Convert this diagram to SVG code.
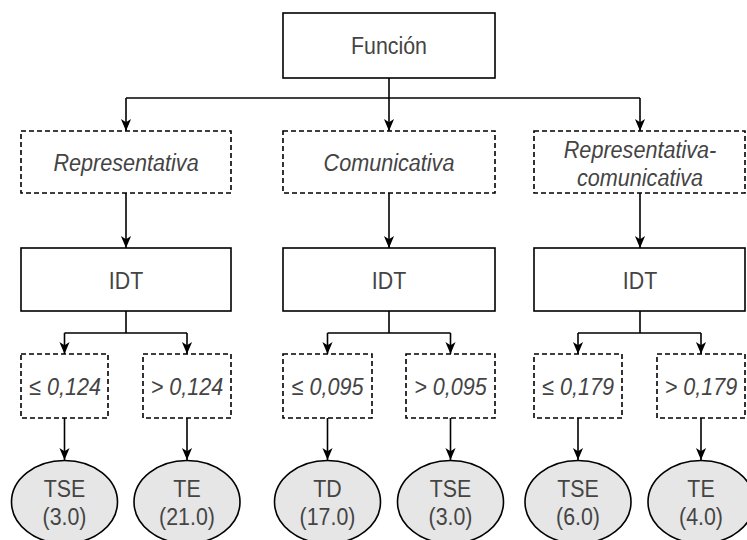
<svg xmlns="http://www.w3.org/2000/svg" width="747" height="540" viewBox="0 0 747 540">
<defs>
<style>
.box{fill:#fff;stroke:#000;stroke-width:1.6}
.dash{fill:#fff;stroke:#000;stroke-width:1.6;stroke-dasharray:5 3}
.leaf{fill:#e6e6e6;stroke:#000;stroke-width:1.6}
.edge{fill:none;stroke:#000;stroke-width:1.6;marker-end:url(#arr)}
.line{fill:none;stroke:#000;stroke-width:1.6}
text{font-family:"Liberation Sans",Arial,sans-serif;font-size:24px;fill:#444;text-anchor:middle}
.it{font-style:italic}
</style>
<marker id="arr" markerUnits="userSpaceOnUse" markerWidth="12" markerHeight="13" viewBox="0 0 13 12" refX="13" refY="6" orient="auto">
<path d="M0,0.5 L13,6 L0,11.5 L3.5,6 z" fill="#000"/>
</marker>
</defs>
<rect width="747" height="540" fill="#fff"/>
<g id="connectors">
<path class="line" d="M126,98 H640"/>
<path class="edge" d="M126,98 V131"/>
<path class="edge" d="M389,78 V131"/>
<path class="edge" d="M640,98 V131"/>
<path class="edge" d="M126,193 V248"/>
<path class="edge" d="M389,193 V248"/>
<path class="edge" d="M640,193 V248"/>
<path class="line" d="M126,311 V333 M64.5,333 H187 M389,311 V333 M327.5,333 H450.5 M640,311 V333 M578,333 H701"/>
<path class="edge" d="M64.5,333 V354"/>
<path class="edge" d="M187,333 V354"/>
<path class="edge" d="M327.5,333 V354"/>
<path class="edge" d="M450.5,333 V354"/>
<path class="edge" d="M578,333 V354"/>
<path class="edge" d="M701,333 V354"/>
<path class="edge" d="M64.5,418 V460"/>
<path class="edge" d="M187,418 V460"/>
<path class="edge" d="M327.5,418 V460"/>
<path class="edge" d="M450.5,418 V460"/>
<path class="edge" d="M578,418 V460"/>
<path class="edge" d="M701,418 V460"/>
</g>
<g id="funcion"><rect class="box" x="283" y="13" width="212" height="65"/><text transform="translate(389,54) scale(0.89,1)">Función</text></g>
<g id="representativa"><rect class="dash" x="21" y="131" width="210" height="62"/><text class="it" transform="translate(126,171) scale(0.9,1)">Representativa</text></g>
<g id="comunicativa"><rect class="dash" x="283" y="131" width="212" height="62"/><text class="it" transform="translate(389,171) scale(0.9,1)">Comunicativa</text></g>
<g id="repcom"><rect class="dash" x="534" y="131" width="211" height="62"/><text class="it" transform="translate(640,158) scale(0.9,1)">Representativa-</text><text class="it" transform="translate(640,186) scale(0.9,1)">comunicativa</text></g>
<g id="idt1"><rect class="box" x="21" y="248" width="210" height="63"/><text transform="translate(126,289) scale(0.89,1)">IDT</text></g>
<g id="idt2"><rect class="box" x="283" y="248" width="212" height="63"/><text transform="translate(389,289) scale(0.89,1)">IDT</text></g>
<g id="idt3"><rect class="box" x="534" y="248" width="211" height="63"/><text transform="translate(640,289) scale(0.89,1)">IDT</text></g>
<g id="t1a"><rect class="dash" x="21" y="354" width="87" height="64"/><text class="it" transform="translate(65,395) scale(0.9,1)">≤ 0,124</text></g>
<g id="t1b"><rect class="dash" x="143" y="354" width="88" height="64"/><text class="it" transform="translate(187,395) scale(0.9,1)">&gt; 0,124</text></g>
<g id="t2a"><rect class="dash" x="283" y="354" width="89" height="64"/><text class="it" transform="translate(327.5,395) scale(0.9,1)">≤ 0,095</text></g>
<g id="t2b"><rect class="dash" x="406" y="354" width="89" height="64"/><text class="it" transform="translate(450.5,395) scale(0.9,1)">&gt; 0,095</text></g>
<g id="t3a"><rect class="dash" x="534" y="354" width="88" height="64"/><text class="it" transform="translate(578,395) scale(0.9,1)">≤ 0,179</text></g>
<g id="t3b"><rect class="dash" x="657" y="354" width="88" height="64"/><text class="it" transform="translate(701,395) scale(0.9,1)">&gt; 0,179</text></g>
<g id="l1"><ellipse class="leaf" cx="64.5" cy="502" rx="53" ry="41.5"/><text transform="translate(64.5,497) scale(0.89,1)">TSE</text><text transform="translate(64.5,525) scale(0.89,1)">(3.0)</text></g>
<g id="l2"><ellipse class="leaf" cx="187" cy="502" rx="53" ry="41.5"/><text transform="translate(187,497) scale(0.89,1)">TE</text><text transform="translate(187,525) scale(0.89,1)">(21.0)</text></g>
<g id="l3"><ellipse class="leaf" cx="327.5" cy="502" rx="53" ry="41.5"/><text transform="translate(327.5,497) scale(0.89,1)">TD</text><text transform="translate(327.5,525) scale(0.89,1)">(17.0)</text></g>
<g id="l4"><ellipse class="leaf" cx="450.5" cy="502" rx="53" ry="41.5"/><text transform="translate(450.5,497) scale(0.89,1)">TSE</text><text transform="translate(450.5,525) scale(0.89,1)">(3.0)</text></g>
<g id="l5"><ellipse class="leaf" cx="578" cy="502" rx="53" ry="41.5"/><text transform="translate(578,497) scale(0.89,1)">TSE</text><text transform="translate(578,525) scale(0.89,1)">(6.0)</text></g>
<g id="l6"><ellipse class="leaf" cx="701" cy="502" rx="53" ry="41.5"/><text transform="translate(701,497) scale(0.89,1)">TE</text><text transform="translate(701,525) scale(0.89,1)">(4.0)</text></g>
</svg>
